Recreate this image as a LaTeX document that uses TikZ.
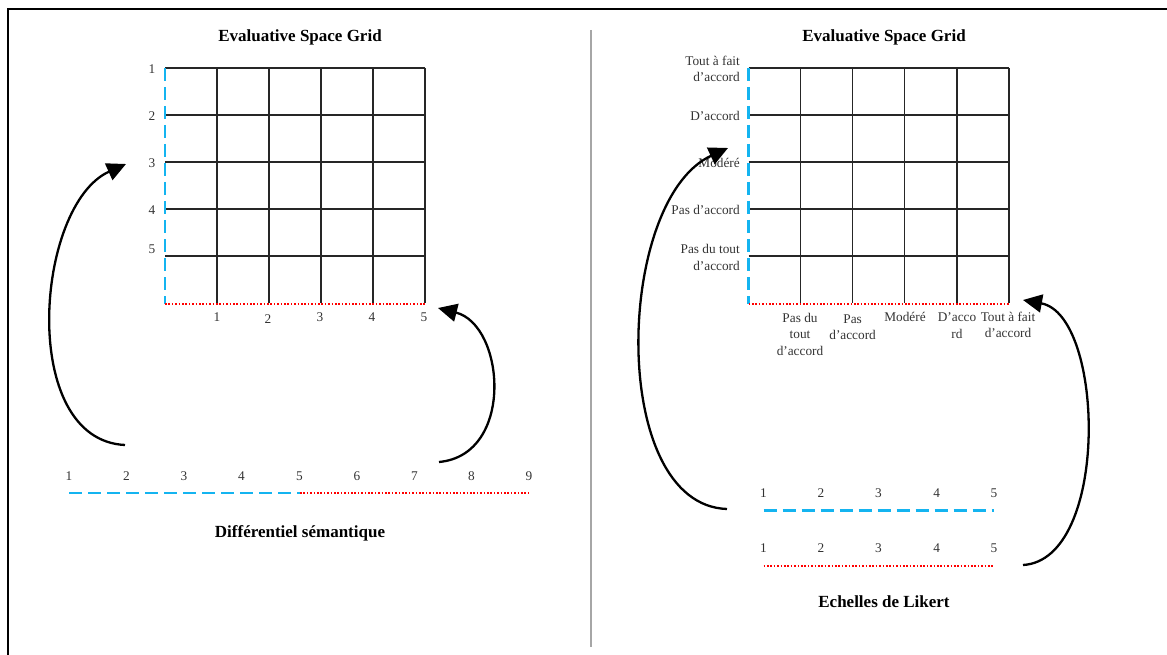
\documentclass[tikz,border=0pt]{standalone}
\usepackage{fontspec}
\setmainfont{Liberation Serif}
\usetikzlibrary{arrows.meta}
\definecolor{lblue}{RGB}{20,180,240}
\begin{document}
\begin{tikzpicture}[x=1pt,y=-1pt,
 gridline/.style={line width=1.2pt, draw=black!85},
 bluedash/.style={draw=lblue, line width=2.4pt, dash pattern=on 13pt off 6pt},
 reddot/.style={draw=red, line width=1.6pt, dash pattern=on 1.6pt off 1.8pt},
 lbl/.style={font=\fontsize{13.3}{16.5}\selectfont, text=black!80, inner sep=0pt},
 ttl/.style={font=\fontsize{17}{20}\selectfont\bfseries, inner sep=0pt},
 arr/.style={line width=2.3pt, -{Triangle[length=19pt,width=18pt]}},
]
\useasboundingbox (0,0) rectangle (1167,655);
\draw[line width=2pt] (8,655) -- (8,9) -- (1167,9);
\draw[draw=black!35, line width=1.5pt] (591,30) -- (591,647);

% ---------- left grid ----------
\foreach \i in {1,...,5} {
  \draw[gridline] (165+\i*52,68) -- (165+\i*52,303);
}
\foreach \j in {0,...,4} {
  \draw[gridline] (165,68+\j*47) -- (425,68+\j*47);
}
\draw[bluedash] (165,68) -- (165,304);
\draw[reddot] (165,304) -- (425,304);

\node[ttl] (tl) at (300,37) {Evaluative Space Grid};
\node[lbl] (ly1) at (152,69) {1};
\node[lbl] (ly2) at (152,116) {2};
\node[lbl] (ly3) at (152,163) {3};
\node[lbl] (ly4) at (152,210) {4};
\node[lbl] (ly5) at (152,249) {5};
\node[lbl] (lx1) at (217,317) {1};
\node[lbl] (lx2) at (268,319) {2};
\node[lbl] (lx3) at (320,317) {3};
\node[lbl] (lx4) at (372,317) {4};
\node[lbl] (lx5) at (424,317) {5};

% semantic differential
\foreach \k [count=\n] in {69,126.5,184,241.5,299.5,357,414.5,471.5,529} {
  \node[lbl] (sd\n) at (\k,476) {\n};
}
\draw[bluedash] (69,493) -- (300,493);
\draw[reddot] (300,493) -- (529,493);
\node[ttl] (tsd) at (300,533) {Différentiel sémantique};

% left arrows
\coordinate (a1s) at (125,445);
\coordinate (a1e) at (126,164);
\draw[arr] (a1s) .. controls (18,440) and (35,205) .. (a1e);
\coordinate (a2s) at (439,462);
\coordinate (a2e) at (438,308);
\draw[arr] (a2s) .. controls (515,455) and (505,325) .. (a2e);

% ---------- right grid ----------
\foreach \i in {1,...,5} {
  \draw[gridline] (748.5+\i*52.1,68) -- (748.5+\i*52.1,303);
}
\foreach \j in {0,...,4} {
  \draw[gridline] (748.5,68+\j*47) -- (1009,68+\j*47);
}
\draw[bluedash] (748.5,68) -- (748.5,304);
\draw[reddot] (748.5,304) -- (1009,304);

\node[ttl] (tr) at (884,37) {Evaluative Space Grid};
\node[lbl, anchor=east, align=right] (ry1) at (740,69) {Tout à fait\\d’accord};
\node[lbl, anchor=east, align=right] (ry2) at (740,116) {D’accord};
\node[lbl, anchor=east, align=right] (ry3) at (740,163) {Modéré};
\node[lbl, anchor=east, align=right] (ry4) at (740,210) {Pas d’accord};
\node[lbl, anchor=east, align=right] (ry5) at (740,257.5) {Pas du tout\\d’accord};

\node[lbl, align=center] (rx1) at (800,334) {Pas du\\tout\\d’accord};
\node[lbl, align=center] (rx2) at (852.6,327) {Pas\\d’accord};
\node[lbl, align=center] (rx3) at (905,317) {Modéré};
\node[lbl, align=center] (rx4) at (957,325.5) {D’acco\\rd};
\node[lbl, align=center] (rx5) at (1008,325) {Tout à fait\\d’accord};

% Likert scales
\foreach \k [count=\n] in {763.5,821,878.4,936.8,994} {
  \node[lbl] (la\n) at (\k,493) {\n};
  \node[lbl] (lb\n) at (\k,548) {\n};
}
\draw[bluedash] (763.5,510.5) -- (994,510.5);
\draw[reddot] (763.5,566) -- (994,566);
\node[ttl] (tlk) at (884,602) {Echelles de Likert};

% right arrows
\coordinate (a3s) at (727,509);
\coordinate (a3e) at (728,148);
\draw[arr] (a3s) .. controls (608,505) and (615,200) .. (a3e);
\coordinate (a4s) at (1023,565);
\coordinate (a4e) at (1023,300);
\draw[arr] (a4s) .. controls (1110,560) and (1105,315) .. (a4e);
\end{tikzpicture}
\end{document}
